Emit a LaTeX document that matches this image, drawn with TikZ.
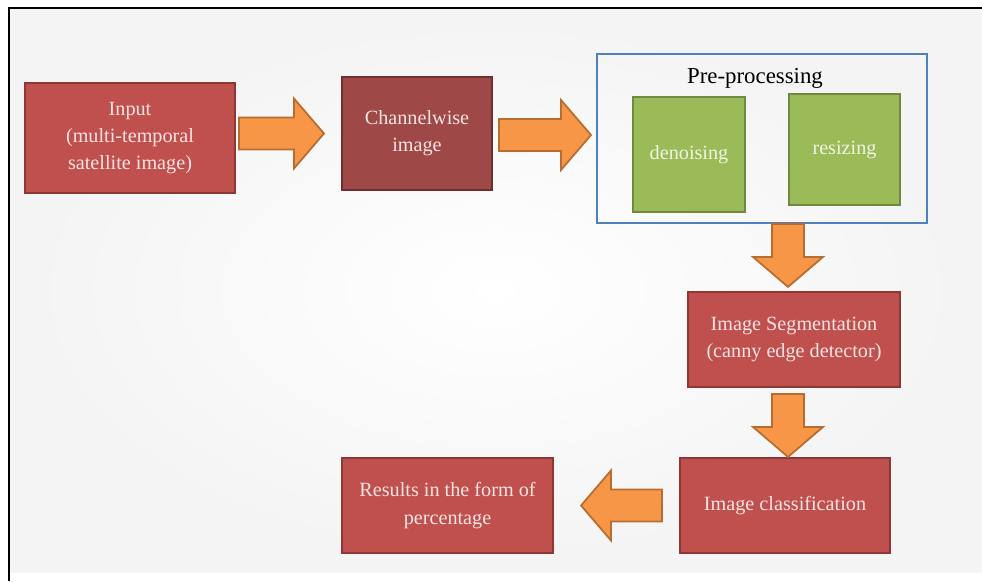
\documentclass[tikz,border=0pt]{standalone}
\usepackage{fontspec}
\setmainfont{Liberation Serif}
\usetikzlibrary{calc}

\definecolor{boxred}{HTML}{C0504D}
\definecolor{boxredline}{HTML}{8C3836}
\definecolor{boxdark}{HTML}{9E4847}
\definecolor{boxdarkline}{HTML}{6E2F2E}
\definecolor{boxgreen}{HTML}{9BBB59}
\definecolor{boxgreenline}{HTML}{71893F}
\definecolor{frameblue}{HTML}{4F81BD}
\definecolor{arrowfill}{HTML}{F79646}
\definecolor{arrowline}{HTML}{B66D31}
\definecolor{boxtext}{HTML}{F6E4E3}
\definecolor{greentext}{HTML}{F0F5E2}

\def\shaftw{0.32cm}
\def\headw{0.7cm}
\def\headl{0.6cm}

\tikzset{
  redbox/.style={draw=boxredline, fill=boxred, line width=1.2pt, text=boxtext,
    align=center, inner sep=0pt, font=\fontsize{11.5}{15.5}\selectfont},
  darkbox/.style={redbox, draw=boxdarkline, fill=boxdark},
  greenbox/.style={redbox, draw=boxgreenline, fill=boxgreen, text=greentext},
  flow/.style={draw=arrowline, fill=arrowfill, line width=1pt, line join=miter,
    to path={
      ($(\tikztostart)!\shaftw!90:(\tikztotarget)$)
      -- ($(\tikztotarget)!\headl!(\tikztostart)!\shaftw!-90:(\tikztostart)$)
      -- ($(\tikztotarget)!\headl!(\tikztostart)!\headw!-90:(\tikztostart)$)
      -- (\tikztotarget)
      -- ($(\tikztotarget)!\headl!(\tikztostart)!\headw!90:(\tikztostart)$)
      -- ($(\tikztotarget)!\headl!(\tikztostart)!\shaftw!90:(\tikztostart)$)
      -- ($(\tikztostart)!\shaftw!-90:(\tikztotarget)$)
      -- cycle}}
}

\begin{document}
\begin{tikzpicture}[x=0.02cm, y=-0.02cm]

        \useasboundingbox (0,0) rectangle (982,581);

        % page background and frame
        \fill[white] (0,0) rectangle (982,581);
        \shade[inner color=white, outer color=gray!9] (9,8) rectangle (982,572);
        \draw[line width=1.2pt] (9,581) -- (9,8) -- (982,8);

        \node[redbox, minimum width=4.2cm, minimum height=2.2cm] (in) at (130,138)
          {Input\\(multi-temporal\\satellite image)};
        \node[darkbox, minimum width=3cm, minimum height=2.26cm] (chan) at (417,133.5)
          {Channelwise\\image};

        \node[draw=frameblue, line width=1.2pt, minimum width=6.6cm, minimum height=3.38cm] (pre) at (762,138.5) {};
        \node[font=\fontsize{13}{15}\selectfont] (pretitle) at (755,78) {Pre-processing};
        \node[greenbox, minimum width=2.24cm, minimum height=2.3cm] (denoise) at (689,154.5) {denoising};
        \node[greenbox, minimum width=2.22cm, minimum height=2.22cm] (resize) at (844.5,149.5) {resizing};

        \node[redbox, minimum width=4.24cm, minimum height=1.9cm] (seg) at (794,339.5)
          {Image Segmentation\\(canny edge detector)};
        \node[redbox, minimum width=4.2cm, minimum height=1.9cm] (class) at (785,505.5)
          {Image classification};
        \node[redbox, minimum width=4.22cm, minimum height=1.9cm] (res) at (447.5,505.5)
          {Results in the form of\\percentage};

        \draw[flow] ([xshift=0.06cm,yshift=0.09cm]in.east) to ([xshift=-0.34cm]chan.west);
        \draw[flow] ([xshift=0.12cm,yshift=-0.03cm]chan.east) to ([xshift=-0.1cm,yshift=0.07cm]pre.west);
        \draw[flow] ([xshift=0.52cm]pre.south) to ([xshift=-0.12cm,yshift=0.08cm]seg.north);
        \draw[flow] ([xshift=-0.12cm,yshift=-0.12cm]seg.south) to ([xshift=0.06cm]class.north);
        \draw[flow] ([xshift=-0.34cm]class.west) to ([xshift=0.54cm]res.east);

\end{tikzpicture}
\end{document}
